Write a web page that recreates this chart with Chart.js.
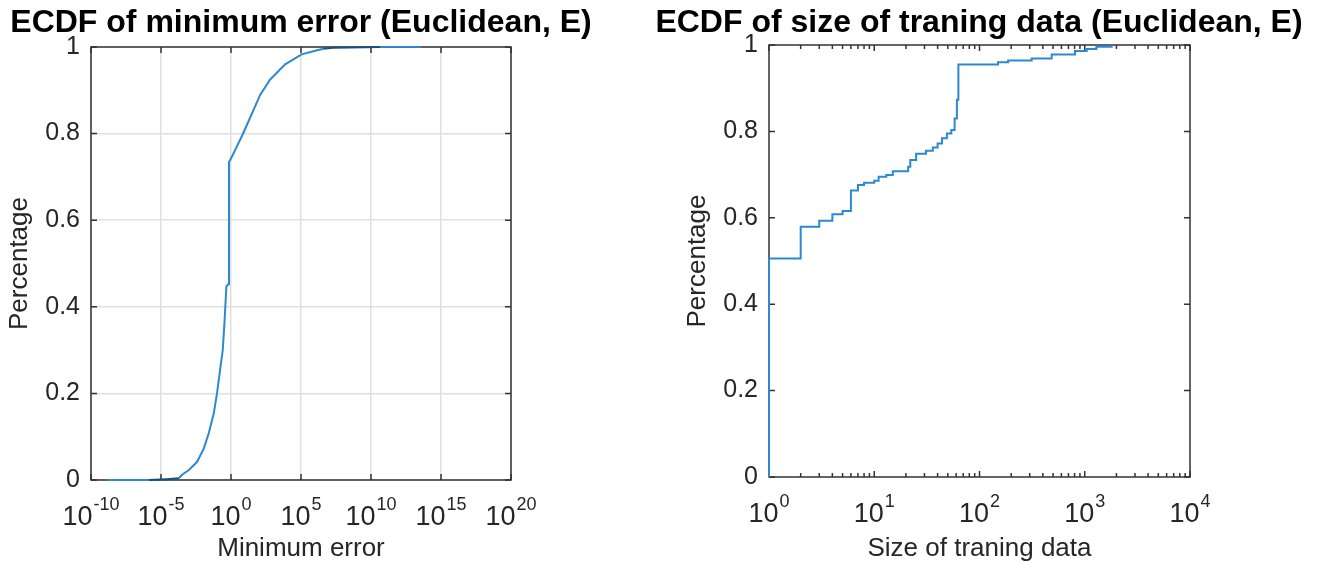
<!DOCTYPE html>
<html>
<head>
<meta charset="utf-8">
<script src="https://cdn.jsdelivr.net/npm/chart.js@4/dist/chart.umd.min.js"></script>
<style>
  html, body { margin: 0; padding: 0; background: #fff; width: 1321px; height: 562px; overflow: hidden; }
  .panel { position: absolute; top: 0; width: 682px; height: 562px; }
  #p1 { left: -40px; }
  #p2 { left: 638px; }
</style>
</head>
<body>
<div class="panel" id="p1"><canvas id="c1" width="682" height="562"></canvas></div>
<div class="panel" id="p2"><canvas id="c2" width="682" height="562"></canvas></div>
<script>
// ---- ECDF of minimum error ----
const errorX = [1.5e-9, 1.4e-6, 2.5e-5, 1.9e-4, 3.2e-4, 9.8e-4, 3.8e-3, 0.0115, 0.0257, 0.059,
                0.1, 0.178, 0.257, 0.339, 0.468, 0.63, 0.72, 0.72, 1.17, 2.7, 6.8, 16, 41, 123,
                630, 7400, 1.1e5, 1.7e6, 3.9e6, 2.0e7, 4.3e10, 3.6e13];
const errorF = [0, 0, 0.002, 0.004, 0.012, 0.023, 0.042, 0.073, 0.108, 0.154,
                0.200, 0.262, 0.300, 0.362, 0.447, 0.452, 0.452, 0.734, 0.747, 0.771, 0.798, 0.825, 0.855, 0.890,
                0.925, 0.960, 0.983, 0.993, 0.996, 0.998, 1.0, 1.0];
// stretches where many tiny steps pile up
const errorDense = [[1.4e-6, 1.9e-4], [3.9e6, 4.3e10]];
const errorExponents = ['-10', '-5', '0', '5', '10', '15', '20'];

// ---- ECDF of size of training data ----
const sizeX = [1, 1, 2, 3, 4, 5, 6, 7, 8, 10, 11, 13, 15, 21, 22, 25, 31, 36, 40, 44, 49, 54,
               58, 61, 63, 150, 187, 313, 485, 808, 1043, 1290, 1800];
const sizeF = [0, 0.506, 0.579, 0.593, 0.608, 0.616, 0.663, 0.676, 0.681, 0.686, 0.695, 0.699,
               0.708, 0.718, 0.734, 0.748, 0.755, 0.763, 0.772, 0.784, 0.795, 0.803,
               0.830, 0.873, 0.955, 0.960, 0.964, 0.969, 0.978, 0.986, 0.991, 0.996, 1.0];
const sizeExponents = ['0', '1', '2', '3', '4'];

const yTicks = [0, 0.2, 0.4, 0.6, 0.8, 1];
const yTickLabels = ['0', '0.2', '0.4', '0.6', '0.8', '1'];

const FONT = '"Liberation Sans", Arial, Helvetica, sans-serif';
const INK = '#262626';
const LINE = '#2c89d0';
const LINE_DARK = '#16507f';

// inward tick marks and the axes box, drawn underneath the data
const axesBox = {
  id: 'axesBox',
  beforeDatasetsDraw(chart, args, opts) {
    const { ctx, chartArea: a, scales: { x, y } } = chart;
    ctx.save();
    ctx.strokeStyle = '#333';
    ctx.lineWidth = 1.5;
    ctx.beginPath();
    const xt = (v, len) => {
      const px = x.getPixelForValue(v);
      ctx.moveTo(px, a.bottom); ctx.lineTo(px, a.bottom - len);
      ctx.moveTo(px, a.top); ctx.lineTo(px, a.top + len);
    };
    opts.xMajor.forEach(v => xt(v, 6));
    (opts.xMinor || []).forEach(v => xt(v, 4));
    yTicks.forEach(v => {
      const py = y.getPixelForValue(v);
      ctx.moveTo(a.left, py); ctx.lineTo(a.left + 6, py);
      ctx.moveTo(a.right, py); ctx.lineTo(a.right - 6, py);
    });
    ctx.stroke();
    ctx.strokeRect(a.left, a.top, a.right - a.left, a.bottom - a.top);
    ctx.restore();
  }
};

// power-of-ten tick labels with raised exponents
const powerLabels = {
  id: 'powerLabels',
  afterDraw(chart, args, opts) {
    const { ctx, chartArea: a, scales: { x } } = chart;
    const baseFont = '27px ' + FONT;
    const supFont = '18px ' + FONT;
    ctx.save();
    ctx.fillStyle = INK;
    ctx.textAlign = 'left';
    ctx.textBaseline = 'alphabetic';
    opts.exponents.forEach(e => {
      const px = x.getPixelForValue(Math.pow(10, Number(e)));
      ctx.font = baseFont;
      const wb = ctx.measureText('10').width;
      ctx.font = supFont;
      const we = ctx.measureText(e).width;
      const x0 = px - (wb + we + 1) / 2;
      ctx.font = baseFont;
      ctx.fillText('10', x0, a.bottom + 45);
      ctx.font = supFont;
      ctx.fillText(e, x0 + wb + 1, a.bottom + 30);
    });
    ctx.restore();
  }
};

function makeChart(canvasId, cfg) {
  const tickValues = cfg.exponents.map(e => Math.pow(10, Number(e)));
  return new Chart(document.getElementById(canvasId), {
    type: 'line',
    data: {
      datasets: [{
        data: cfg.xs.map((v, i) => ({ x: v, y: cfg.ys[i] })),
        borderColor: LINE,
        borderWidth: 2,
        pointRadius: 0,
        fill: false,
        tension: 0,
        stepped: cfg.stepped,
        clip: false,
        segment: {
          borderColor: c => {
            if (!cfg.dense) return undefined;
            const x0 = cfg.xs[c.p0DataIndex], x1 = cfg.xs[c.p1DataIndex];
            return cfg.dense.some(r => x0 >= r[0] && x1 <= r[1]) ? LINE_DARK : undefined;
          }
        }
      }]
    },
    options: {
      responsive: false,
      animation: false,
      events: [],
      layout: { padding: 0 },
      plugins: {
        legend: { display: false },
        tooltip: { enabled: false },
        title: {
          display: true,
          text: cfg.title,
          color: '#000',
          font: { family: FONT, size: 32, weight: 'bold' },
          padding: { top: 4, bottom: cfg.titleGap }
        },
        axesBox: { xMajor: tickValues, xMinor: cfg.minor },
        powerLabels: { exponents: cfg.exponents }
      },
      scales: {
        x: {
          type: 'logarithmic',
          min: tickValues[0],
          max: tickValues[tickValues.length - 1],
          afterBuildTicks: s => { s.ticks = tickValues.map(v => ({ value: v })); },
          afterFit: s => { s.height = cfg.xAxisHeight; },
          ticks: { display: false },
          border: { display: false },
          grid: { display: cfg.grid, drawTicks: false, color: '#e0e0e0', lineWidth: 1.5 },
          title: {
            display: true, text: cfg.xTitle, color: INK,
            font: { family: FONT, size: 26 }, padding: { top: 0, bottom: -2 }
          }
        },
        y: {
          type: 'linear',
          position: 'left',
          min: 0,
          max: 1,
          afterBuildTicks: s => { s.ticks = yTicks.map(v => ({ value: v })); },
          afterFit: s => { s.width = 131; },
          ticks: {
            color: INK, padding: 11,
            font: { family: FONT, size: 25 },
            callback: (v, i) => yTickLabels[i]
          },
          border: { display: false },
          grid: { display: cfg.grid, drawTicks: false, color: '#e0e0e0', lineWidth: 1.5 },
          title: {
            display: true, text: 'Percentage', color: INK,
            font: { family: FONT, size: 26 }, padding: { top: 44.5, bottom: 0 }
          }
        },
        // empty right-hand axis that only reserves the margin
        yMargin: {
          axis: 'y',
          type: 'linear',
          position: 'right',
          min: 0,
          max: 1,
          afterFit: s => { s.width = cfg.rightMargin; },
          ticks: { display: false },
          grid: { display: false, drawTicks: false },
          border: { display: false },
          title: { display: false }
        }
      }
    },
    plugins: [axesBox, powerLabels]
  });
}

const sizeMinor = [];
for (let k = 0; k < 4; k++) for (let m = 2; m <= 9; m++) sizeMinor.push(m * Math.pow(10, k));

makeChart('c1', {
  title: 'ECDF of minimum error (Euclidean, E)',
  xTitle: 'Minimum error',
  xs: errorX, ys: errorF, dense: errorDense,
  exponents: errorExponents, minor: [],
  stepped: false, grid: true,
  rightMargin: 131, titleGap: 4.6, xAxisHeight: 82
});

makeChart('c2', {
  title: 'ECDF of size of traning data (Euclidean, E)',
  xTitle: 'Size of traning data',
  xs: sizeX, ys: sizeF, dense: null,
  exponents: sizeExponents, minor: sizeMinor,
  stepped: 'before', grid: false,
  rightMargin: 130, titleGap: 2.6, xAxisHeight: 85
});
</script>
</body>
</html>
